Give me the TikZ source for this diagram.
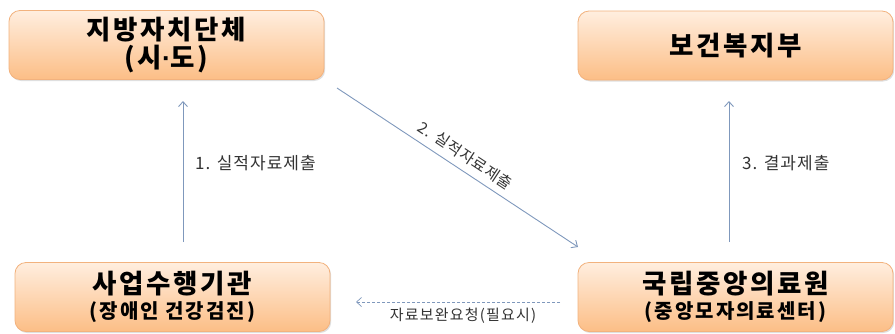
\documentclass[tikz,border=0pt]{standalone}
\usepackage{fontspec}
\setmainfont{Noto Sans CJK KR}
\newfontfamily\dotfont{Liberation Sans}
\usetikzlibrary{arrows.meta,shadows}
\definecolor{boxtop}{HTML}{FFEEDF}
\definecolor{boxbot}{HTML}{FCBE86}
\definecolor{boxline}{HTML}{F2B27E}
\definecolor{arrowc}{HTML}{7F98BC}
\definecolor{labc}{HTML}{333333}
\newcommand{\bigtitle}{\fontsize{26.5}{28}\selectfont\addfontfeature{LetterSpace=10}}
\newcommand{\subtitle}{\fontsize{20}{22}\selectfont\addfontfeature{LetterSpace=10}}
\tikzset{
  orgbox/.style={draw=boxline, line width=0.8pt, rounded corners=11pt,
    top color=boxtop, bottom color=boxbot, minimum width=315pt, minimum height=69pt,
    inner sep=0pt, align=center, font=\bfseries\bigtitle, text=black,
    drop shadow={shadow xshift=1.2pt, shadow yshift=-1.5pt, opacity=0.25}},
  flow/.style={draw=arrowc, line width=0.9pt, -{Straight Barb[length=5pt,width=9pt]}},
  lab/.style={font=\fontsize{17}{19}\selectfont\addfontfeature{LetterSpace=6}, text=labc, inner sep=1pt},
}
\begin{document}
\begin{tikzpicture}[x=1pt,y=-1pt]
\useasboundingbox (0,0) rectangle (895,333);
\node[orgbox] (tl) at (166.5,45) {지방자치단체\\(시{\dotfont\bfseries·}도)};
\node[orgbox] (tr) at (735.5,45.5) {보건복지부};
\node[orgbox] (bl) at (172.5,297) {사업수행기관\\[-3pt]{\subtitle (장애인 건강검진)}};
\node[orgbox] (br) at (735.5,297) {국립중앙의료원\\[-3pt]{\subtitle (중앙모자의료센터)}};
\coordinate (a1s) at (183,242);
\coordinate (a1e) at (183,101);
\coordinate (a3s) at (729,242);
\coordinate (a3e) at (729,101);
\coordinate (a2s) at (337,88);
\coordinate (a2e) at (578,247);
\coordinate (a4s) at (560,302);
\coordinate (a4e) at (356,302);
\draw[flow] (a1s) -- (a1e);
\draw[flow] (a3s) -- (a3e);
\draw[flow] (a2s) -- node[lab, font=\fontsize{15.5}{18}\selectfont\addfontfeature{LetterSpace=5}, sloped, above=6pt, pos=0.5] (l2) {2. 실적자료제출} (a2e);
\draw[flow, dashed, dash pattern=on 3pt off 2pt, line width=0.7pt] (a4s) -- (a4e);
\node[lab, anchor=west] (l1) at (194,163) {1. 실적자료제출};
\node[lab, anchor=west] (l3) at (741,163) {3. 결과제출};
\node[lab, font=\fontsize{15}{17}\selectfont\addfontfeature{LetterSpace=8}] (l4) at (463,316) {자료보완요청(필요시)};
\end{tikzpicture}
\end{document}
